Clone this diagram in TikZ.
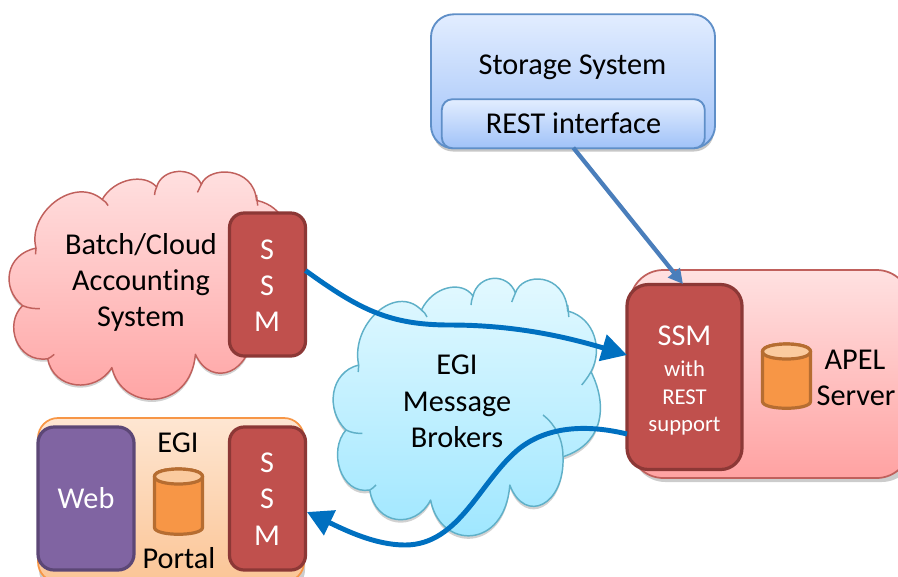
\documentclass[tikz,border=0pt]{standalone}
\usepackage{fontspec}
\setmainfont{Carlito}[Ligatures=NoCommon]
\usetikzlibrary{arrows.meta,calc}
\definecolor{redtop}{HTML}{FFE1E1}
\definecolor{redbot}{HTML}{FFA2A2}
\definecolor{redline}{HTML}{C0605C}
\definecolor{cyantop}{HTML}{E4F9FF}
\definecolor{cyanbot}{HTML}{9CE6FF}
\definecolor{cyanline}{HTML}{5FB0C8}
\definecolor{bluetop}{HTML}{E2EDFF}
\definecolor{bluebot}{HTML}{A0C2F8}
\definecolor{blueline}{HTML}{5F8FC8}
\definecolor{ssmfill}{HTML}{C0504D}
\definecolor{ssmline}{HTML}{8C3836}
\definecolor{orafill}{HTML}{F79646}
\definecolor{oraline}{HTML}{B66D31}
\definecolor{oratop}{HTML}{FBCB9F}
\definecolor{webfill}{HTML}{8064A2}
\definecolor{webline}{HTML}{5C4776}
\definecolor{flow}{HTML}{0070C0}
\definecolor{restflow}{HTML}{4A7EBB}
\definecolor{portaltop}{HTML}{FEE6D2}
\definecolor{portalbot}{HTML}{FBC596}
\newcommand{\cloudoutline}{
 (358.7,365) .. controls (350,325) and (395,283) .. (421.4,310)
 .. controls (433,286) and (462,280) .. (473,296)
 .. controls (478,274) and (508,272) .. (515.4,293)
 .. controls (522,272) and (565,272) .. (567.7,311)
 .. controls (595,318) and (603,350) .. (591,371.7)
 .. controls (610,410) and (600,445) .. (563,456.7)
 .. controls (565,505) and (525,525) .. (509.8,485)
 .. controls (505,550) and (440,550) .. (430.6,500)
 .. controls (415,530) and (375,525) .. (369.8,490)
 .. controls (340,495) and (328,450) .. (346,430)
 .. controls (325,410) and (330,372) .. (358.7,365) -- cycle}
\newcommand{\cloudfolds}{
 (421.4,310) .. controls (424,312) and (426,314) .. (427,317)
 (473,296) .. controls (472,299) and (471,302) .. (471,305)
 (515.4,293) .. controls (514.5,296) and (512.5,299) .. (511.7,302)
 (567.7,305) .. controls (568,309) and (568.5,313) .. (568.8,317)
 (591,371.7) .. controls (588,377) and (585,381) .. (581.7,385)
 (543,415) .. controls (556,425) and (563,440) .. (563,456.7)
 (369.8,490) .. controls (372,489) and (374,487) .. (376,485)
 (346,430) .. controls (352,433) and (357,433.5) .. (362.4,433.3)
 (358.7,365) -- (358.2,372)}
% #1 top colour, #2 bottom colour, #3 line colour
\newcommand{\drawcloud}[3]{
 \fill[black,opacity=.18,shift={(0,3)}] \cloudoutline;
 \path[draw=#3,line width=1.1pt,top color=#1,bottom color=#2,line join=round] \cloudoutline;
 \draw[#3,line width=1.1pt] \cloudfolds;
}
% #1 left, #2 top, #3 right, #4 bottom
\newcommand{\drawdrum}[4]{
 \path[draw=oraline,line width=2.4pt,fill=orafill]
   (#1,#2+8) -- (#1,#4-8)
   .. controls (#1,#4+1) and (#3,#4+1) .. (#3,#4-8) -- (#3,#2+8)
   .. controls (#3,#2-2) and (#1,#2-2) .. (#1,#2+8) -- cycle;
 \path[draw=oraline,line width=2.4pt,fill=oratop]
   (#1,#2+8) .. controls (#1,#2-2) and (#3,#2-2) .. (#3,#2+8)
   .. controls (#3,#2+18) and (#1,#2+18) .. (#1,#2+8) -- cycle;
}
\tikzset{
 x=0.75pt,y=-0.75pt,
 boxsz/.style 2 args={minimum width=#1*0.75pt,minimum height=#2*0.75pt,inner sep=0pt,outer sep=0pt,align=center},
 lab/.style={font=\fontsize{22.7}{26}\selectfont,text=black,inner sep=0pt,anchor=base},
 wlab/.style={lab,text=white},
 slab/.style={font=\fontsize{17}{20}\selectfont,text=white,inner sep=0pt,anchor=base},
 ssmbox/.style={draw=ssmline,fill=ssmfill,line width=2.4pt,rounded corners=11pt},
 flowline/.style={draw=flow,line width=3.7pt,-{Triangle[length=19pt,width=20pt]}},
}
\begin{document}
\begin{tikzpicture}
\path[use as bounding box] (0,0) rectangle (898,576);
% storage system
\fill[black,opacity=.22,rounded corners=15pt] (433,40) rectangle (714,151.5);
\node[boxsz={284}{134},draw=blueline,line width=1.4pt,top color=bluetop,bottom color=bluebot,rounded corners=17pt] (storage) at (573,81.3) {};
\node[boxsz={263}{49},draw=blueline,line width=1.4pt,top color=bluetop,bottom color=bluebot,rounded corners=8pt] (rest) at (573.3,123.7) {};
\node[lab] (storagetxt) at (572.5,74) {Storage System};
\node[lab] (resttxt) at (573.5,133.5) {REST interface};
% batch cloud
\begin{scope}[shift={(-342.4,-74.9)},xscale=1.055,yscale=.885]
\drawcloud{redtop}{redbot}{redline}
\end{scope}
\node[lab] (batch1) at (141,254.2) {Batch/Cloud};
\node[lab] (batch2) at (141,290) {Accounting};
\node[lab] (batch3) at (141,326) {System};
\node[boxsz={76}{143},ssmbox] (ssma) at (267.5,284.5) {};
\node[wlab] (ssma1) at (267,259) {S};
\node[wlab] (ssma2) at (267,295) {S};
\node[wlab] (ssma3) at (267,331.7) {M};
% portal
\fill[black,opacity=.2,rounded corners=15pt] (39,430) rectangle (305,590);
\node[boxsz={266}{164},draw=orafill,line width=1.3pt,top color=portaltop,bottom color=portalbot,rounded corners=15pt] (portal) at (171,500) {};
\node[boxsz={96}{143},draw=webline,fill=webfill,line width=2.4pt,rounded corners=12pt] (web) at (86,498.5) {};
\node[wlab] (webtxt) at (86,508.7) {Web};
\node[lab] (egitxt) at (178,452) {EGI};
\node[lab] (portaltxt) at (179,568) {Portal};
\drawdrum{154.5}{468.5}{202.5}{535.5}
\node[boxsz={76}{143},ssmbox] (ssmb) at (267.5,498.5) {};
\node[wlab] (ssmb1) at (267,472.7) {S};
\node[wlab] (ssmb2) at (267,508.7) {S};
\node[wlab] (ssmb3) at (267,545) {M};
% brokers
\drawcloud{cyantop}{cyanbot}{cyanline}
\node[lab] (brok1) at (457,374.8) {EGI};
\node[lab] (brok2) at (457,411) {Message};
\node[lab] (brok3) at (457,447) {Brokers};
% apel
\fill[black,opacity=.2,rounded corners=25pt] (632,276) rectangle (915,482);
\node[boxsz={280}{208},draw=redline,line width=1.3pt,top color=redtop,bottom color=redbot,rounded corners=25pt] (apel) at (630+140,374) {};
\node[boxsz={115}{185},ssmbox,rounded corners=16pt] (ssmc) at (684.5,377) {};
\node[wlab] (ssmc1) at (684.5,345.5) {SSM};
\node[slab] (ssmc2) at (684.5,376) {with};
\node[slab] (ssmc3) at (684.5,404) {REST};
\node[slab] (ssmc4) at (684.5,431.5) {support};
\drawdrum{762.5}{343.5}{810.5}{409.5}
\node[lab] (apel1) at (855,369) {APEL};
\node[lab] (apel2) at (856,405) {Server};
% connectors
\draw[restflow,line width=3.2pt,-{Triangle[length=11pt,width=11pt]}] ($(rest.south)+(0,-0.5)$) -- ($(ssmc.north)+(-1.5,-0.5)$);
\path[flowline] ($(ssma.east)+(0,-14)$) .. controls (360,310) and (390,325) .. (450,325) .. controls (510,325) and (560,335) .. ($(ssmc.west)+(0,-22)$);
\path[flowline] ($(ssmc.west)+(0,57)$) .. controls (590,425) and (550,425) .. (520,448) .. controls (480,480) and (460,545) .. (405,545) .. controls (375,545) and (345,530) .. (307,512);
\end{tikzpicture}
\end{document}
